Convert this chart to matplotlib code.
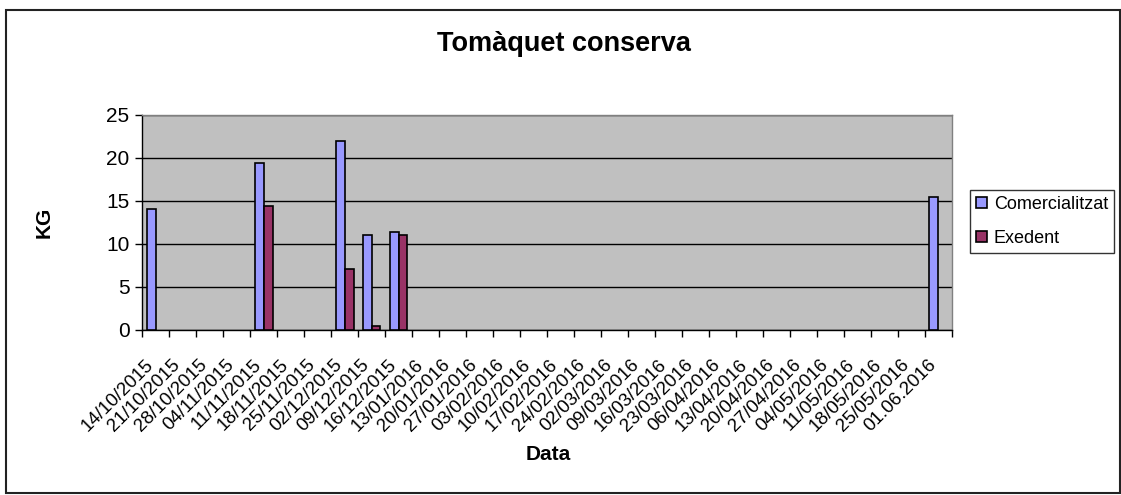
import matplotlib
matplotlib.use("Agg")
import matplotlib.pyplot as plt
from matplotlib.patches import Rectangle
from matplotlib.transforms import ScaledTranslation
import numpy as np

plt.rcParams['font.family'] = ['Liberation Sans', 'DejaVu Sans']

dates = ["14/10/2015", "21/10/2015", "28/10/2015", "04/11/2015", "11/11/2015",
         "18/11/2015", "25/11/2015", "02/12/2015", "09/12/2015", "16/12/2015",
         "13/01/2016", "20/01/2016", "27/01/2016", "03/02/2016", "10/02/2016",
         "17/02/2016", "24/02/2016", "02/03/2016", "09/03/2016", "16/03/2016",
         "23/03/2016", "06/04/2016", "13/04/2016", "20/04/2016", "27/04/2016",
         "04/05/2016", "11/05/2016", "18/05/2016", "25/05/2016", "01.06.2016"]
comercialitzat = [14, 0, 0, 0, 19.4, 0, 0, 22, 11, 11.4,
                  0, 0, 0, 0, 0, 0, 0, 0, 0, 0,
                  0, 0, 0, 0, 0, 0, 0, 0, 0, 15.4]
exedent = [0, 0, 0, 0, 14.4, 0, 0, 7, 0.35, 11,
           0, 0, 0, 0, 0, 0, 0, 0, 0, 0,
           0, 0, 0, 0, 0, 0, 0, 0, 0, 0]

W, H = 1121, 495
fig = plt.figure(figsize=(W / 100, H / 100), dpi=100)
fig.patch.set_facecolor('white')

# outer chart border
fig.patches.append(Rectangle((6 / W, 1 - 493 / H), (1120 - 6) / W, (493 - 10) / H,
                             transform=fig.transFigure, fill=False,
                             edgecolor='#222222', lw=1.5, zorder=0))

left, right, top, bottom = 142, 952, 115, 329.5
ax = fig.add_axes([left / W, 1 - bottom / H, (right - left) / W, (bottom - top) / H])
ax.set_facecolor('#C0C0C0')

x = np.arange(len(dates))
bw = 1 / 3
c_bars = [(xi, v) for xi, v in zip(x, comercialitzat) if v > 0]
e_bars = [(xi, v) for xi, v in zip(x, exedent) if v > 0]
ax.bar([p[0] - bw / 2 for p in c_bars], [p[1] for p in c_bars], width=bw,
       color='#9999FF', edgecolor='black', linewidth=1.2, zorder=3, label='Comercialitzat')
ax.bar([p[0] + bw / 2 for p in e_bars], [p[1] for p in e_bars], width=bw,
       color='#993366', edgecolor='black', linewidth=1.2, zorder=3, label='Exedent')

ax.set_xlim(-0.5, len(dates) - 0.5)
ax.set_ylim(0, 25)
ax.set_yticks([0, 5, 10, 15, 20, 25])
ax.yaxis.grid(True, color='black', linewidth=1)
ax.set_axisbelow(True)

ax.set_xticks(x)
ax.set_xticklabels(dates, rotation=45, ha='right', va='center',
                   rotation_mode='anchor', fontsize=13.5)
ax.set_xticks(np.arange(-0.5, len(dates)), minor=True)
ax.tick_params(axis='x', which='major', length=0, pad=4)
ax.tick_params(axis='x', which='minor', length=5, width=1, color='black', direction='out')
ax.tick_params(axis='y', length=5, width=1, direction='out', labelsize=15, pad=4)

offset = ScaledTranslation(-5 / 100, -27 / 100, fig.dpi_scale_trans)
for lab in ax.get_xticklabels():
    lab.set_transform(lab.get_transform() + offset)

for s in ['top', 'right']:
    ax.spines[s].set_color('#808080')
    ax.spines[s].set_linewidth(1)
for s in ['left', 'bottom']:
    ax.spines[s].set_color('black')
    ax.spines[s].set_linewidth(1)

fig.text(564 / W, 1 - 44 / H, 'Tomàquet conserva', ha='center', va='center',
         fontsize=19.5, fontweight='bold')
fig.text(44 / W, 1 - 222 / H, 'KG', ha='center', va='center', rotation=90,
         fontsize=15, fontweight='bold')
fig.text(548 / W, 1 - 455 / H, 'Data', ha='center', va='center',
         fontsize=15, fontweight='bold')

leg = fig.legend(loc='center', bbox_to_anchor=(1042 / W, 1 - 221.5 / H),
                 fontsize=13, frameon=True, fancybox=False, edgecolor='black',
                 handlelength=0.6, handleheight=0.6, handletextpad=0.4,
                 borderpad=0.35, labelspacing=0.95, borderaxespad=0)
leg.get_frame().set_linewidth(1)

fig.savefig('out.png', dpi=100)
